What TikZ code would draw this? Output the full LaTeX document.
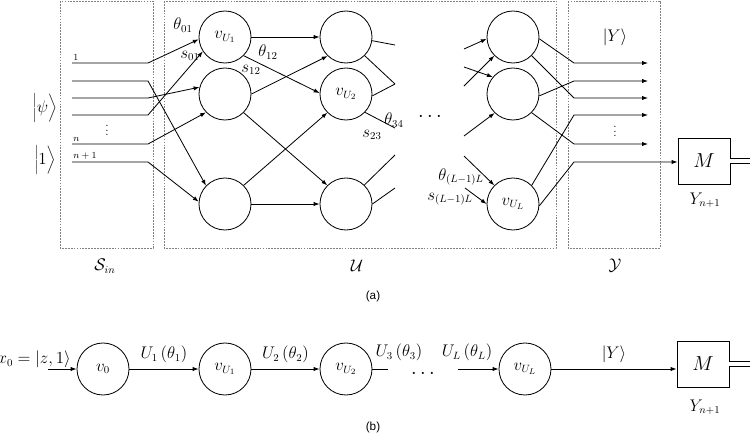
\documentclass[tikz,border=0pt]{standalone}
\usepackage{fontspec}
\newfontfamily\capfont{Liberation Sans}
\usetikzlibrary{arrows.meta}
\newcommand{\lblsize}{\fontsize{13.5}{16}\selectfont}
\begin{document}
\begin{tikzpicture}[x=0.03cm,y=-0.03cm,line width=0.7pt,
		neuron/.style={circle,draw,minimum size=1.56cm,inner sep=0pt,font=\lblsize},
		meter/.style={rectangle,draw,minimum width=1.56cm,minimum height=1.38cm,inner sep=0pt,font=\LARGE},
		region/.style={draw=gray,line width=0.5pt,dash pattern=on 1.5pt off 1pt},
		arr/.style={-{Latex[length=5pt,width=3.6pt]}},
		lbl/.style={font=\lblsize,inner sep=0pt},
		tiny/.style={font=\footnotesize,inner sep=0pt}]
			\useasboundingbox (0,0) rectangle (750,436);
			% (a) regions
			\draw[region] (60,1) rectangle (153,248);
			\draw[region] (164,1) rectangle (556,248);
			\draw[region] (568,1) rectangle (660,248);
			\node[lbl] (sin) at (105,266) {$\mathcal{S}_{in}$};
			\node[lbl] (uset) at (357,266) {$\mathcal{U}$};
			\node[lbl] (yset) at (615,266) {$\mathcal{Y}$};
			% neurons
			\node[neuron] (c11) at (225,37) {$v_{U_1}$};
			\node[neuron] (c12) at (225,94) {};
			\node[neuron] (c13) at (225,204) {};
			\node[neuron] (c21) at (346,37) {};
			\node[neuron] (c22) at (346,94) {$v_{U_2}$};
			\node[neuron] (c23) at (346,204) {};
			\node[neuron] (cL1) at (513,37) {};
			\node[neuron] (cL2) at (513,94) {};
			\node[neuron] (cL3) at (513,204) {$v_{U_L}$};
			\node[meter] (ma) at (704,161) {$M$};
			% inputs
			\foreach \i/\y/\t in {1/63/c11.185, 2/81/c13.136, 3/98/c12.165, 4/115/c11.213, 5/144/c12.224, 6/162/c13.175}
			{
				\coordinate (in\i) at (72,\y);
				\draw[arr] (in\i) -- ++(76,0) -- (\t);
			}
			\node[tiny,anchor=south west] (l1) at (73,61) {$1$};
			\node[tiny,anchor=south west] (ln) at (73,142) {$n$};
			\node[tiny,anchor=south west] (ln1) at (73,160) {$n+1$};
			\node[font=\normalsize,inner sep=0pt] (vd1) at (107,127) {$\vdots$};
			\node[lbl] (psi) at (45,108) {$\bigg|\psi\bigg\rangle$};
			\node[lbl] (one) at (45,160) {$\bigg|1\bigg\rangle$};
			\node[lbl] (t01) at (183,25) {$\theta_{01}$};
			\node[lbl] (s01) at (190,56) {$s_{01}$};
			% layer 1 to 2
			\draw[arr] (c11) -- (c21);
			\draw[arr] (c11.-45) -- (c22.178);
			\draw[arr] (c12.0) -- (c21.226);
			\draw[arr] (c12.-45) -- (c23.135);
			\draw[arr] (c13.45) -- (c22.225);
			\draw[arr] (c13) -- (c23);
			\node[lbl] (t12) at (268,52) {$\theta_{12}$};
			\node[lbl] (s12) at (251,70) {$s_{12}$};
			% cut lines after layer 2
			\coordinate (o1) at (395,45);
			\coordinate (o2) at (395,84);
			\coordinate (o3) at (395,128);
			\coordinate (o4) at (395,155);
			\coordinate (o5) at (395,188);
			\draw (c21.-8) -- (o1);
			\draw (c21.-45) -- (o2);
			\draw (c22.-4) -- (o2);
			\draw (c22.-44) -- (o3);
			\draw (c23.46) -- (o4);
			\draw (c23.0) -- (o5);
			\node[lbl] (t34) at (394,120) {$\theta_{34}$};
			\node[lbl] (s23) at (372,135) {$s_{23}$};
			\node[font=\LARGE] (dots1) at (430,117) {$\cdots$};
			% cut lines before last layer
			\coordinate (i1) at (464,49);
			\coordinate (i2) at (464,67);
			\coordinate (i3) at (464,86);
			\coordinate (i4) at (464,136);
			\coordinate (i5) at (464,156);
			\coordinate (i6) at (465,188);
			\draw[arr] (i1) -- (cL1.184);
			\draw[arr] (i2) -- (cL2.140);
			\draw[arr] (i3) -- (cL1.225);
			\draw[arr] (i4) -- (cL2.226);
			\draw[arr] (i5) -- (cL3.135);
			\draw[arr] (i6) -- (cL3.180);
			\node[lbl] (tL) at (461,177) {$\theta_{(L-1)L}$};
			\node[lbl] (sL) at (450,199) {$s_{(L-1)L}$};
			% outputs
			\foreach \i/\y/\s in {1/63/cL1.-4, 2/81/cL2.-4, 3/98/cL1.-45, 4/115/cL3.45, 5/144/cL2.-45}
			{
				\coordinate (y\i) at (574,\y);
				\draw[arr] (\s) -- (y\i) -- ++(74,0);
			}
			\coordinate (y6) at (574,162);
			\draw[arr] (cL3.-4) -- (y6) -- (ma.west |- y6);
			\node[lbl] (ket) at (615,37) {$\Big|Y\Big\rangle$};
			\node[font=\normalsize,inner sep=0pt] (vd2) at (615,128) {$\vdots$};
			\draw[double,double distance=3.6pt,line width=0.5pt] (ma.east) -- ++(21,0);
			\node[lbl] (yn) at (705,200) {$Y_{n+1}$};
			\node[font=\capfont] (capa) at (373,296) {(a)};
			% (b) chain
			\coordinate (x0) at (48,369);
			\node[lbl,anchor=east] (x0lbl) at (71,359) {$x_0=\Big|z,1\Big\rangle$};
			\node[neuron] (b0) at (103,369) {$v_0$};
			\node[neuron] (b1) at (225,369) {$v_{U_1}$};
			\node[neuron] (b2) at (346,369) {$v_{U_2}$};
			\node[neuron] (bL) at (525,369) {$v_{U_L}$};
			\node[meter] (mb) at (703,364) {$M$};
			\coordinate (b3) at (388,369);
			\coordinate (bl) at (458,369);
			\draw[arr] (x0) -- (b0);
			\draw[arr] (b0) -- node[lbl,above=5pt] (u1) {$U_1\,\Big(\theta_1\Big)$} (b1);
			\draw[arr] (b1) -- node[lbl,above=5pt] (u2) {$U_2\,\Big(\theta_2\Big)$} (b2);
			\draw (b2) -- (b3);
			\node[lbl] (u3) at (399,352) {$U_3\,\Big(\theta_3\Big)$};
			\node[font=\LARGE] (dots2) at (423,374) {$\cdots$};
			\draw[arr] (bl) -- (bL);
			\node[lbl] (ul) at (467,352) {$U_L\,\Big(\theta_L\Big)$};
			\draw[arr] (bL) -- node[lbl,above=5pt] (yk) {$\Big|Y\Big\rangle$} (mb.west |- bL);
			\draw[double,double distance=3.6pt,line width=0.5pt] (mb.east) -- ++(21,0);
			\node[lbl] (ynb) at (705,407) {$Y_{n+1}$};
			\node[font=\capfont] (capb) at (373,427) {(b)};
		\end{tikzpicture}
\end{document}
